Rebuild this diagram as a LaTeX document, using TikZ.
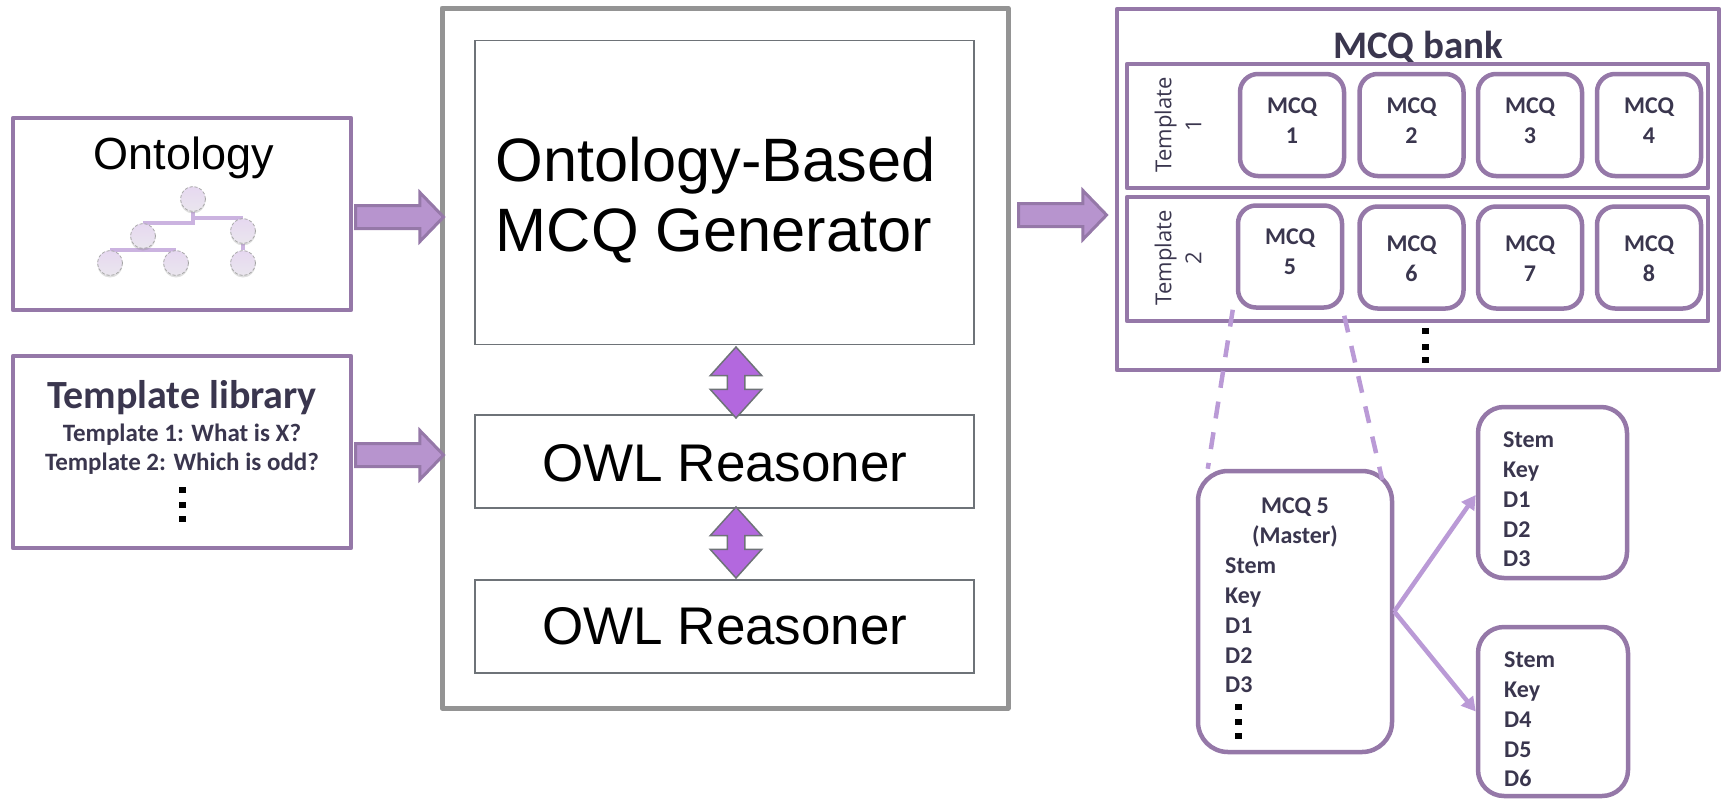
\documentclass[tikz,border=0pt]{standalone}
\usepackage{fontspec}
\setmainfont{Liberation Sans}
\newfontfamily\carlitofont{Carlito}[BoldFont={Carlito Bold}]
\newfontfamily\opensansfont{Open Sans}
\usetikzlibrary{shapes.arrows,backgrounds,shadows,arrows.meta}
\definecolor{boxpurple}{HTML}{9578A8}
\definecolor{arrowpurple}{HTML}{B794CE}
\definecolor{linkpurple}{HTML}{BA9AD6}
\definecolor{dblpurple}{HTML}{B368DE}
\definecolor{inkdark}{HTML}{3A364E}
\definecolor{framegray}{HTML}{949494}
\definecolor{innergray}{HTML}{6E7378}
\definecolor{treetop}{HTML}{E6D8F0}
\definecolor{treebottom}{HTML}{EAE6EE}
\newcommand{\sized}[2]{\fontsize{#1pt}{#2pt}\selectfont}
\begin{document}
\begin{tikzpicture}[x=1pt,y=-1pt,
purplebox/.style={draw=boxpurple, line width=4.5pt, line join=round, inner sep=0pt},
mcqbox/.style={purplebox, rounded corners=18pt},
innerbox/.style={draw=innergray, line width=1.5pt, inner sep=0pt, minimum width=499pt},
mcqtext/.style={font=\carlitofont\bfseries\sized{24}{30}, text=inkdark, align=center, inner sep=0pt},
listtext/.style={font=\carlitofont\bfseries\sized{24}{29.8}, text=inkdark, align=left, inner sep=0pt},
bigtext/.style={font=\sized{53}{60}, text=black, inner sep=0pt},
blockarrow/.style={single arrow, draw=boxpurple, fill=arrowpurple, line width=3pt, inner sep=10pt,
  minimum width=49pt, single arrow head extend=13pt, single arrow tip angle=92},
dblarrow/.style={double arrow, shape border rotate=90, draw=innergray, fill=dblpurple, line width=1.5pt, inner sep=8pt,
  minimum height=71pt, minimum width=50pt, double arrow head extend=17pt, double arrow tip angle=84},
dotsq/.style={fill=black, inner sep=0pt, minimum width=7pt, minimum height=6pt},
treenode/.style={circle, inner sep=0pt, minimum size=25pt, draw=black!35, densely dashed, line width=0.8pt,
  top color=treetop, bottom color=treebottom, drop shadow={shadow xshift=0pt, shadow yshift=-2pt, opacity=0.25}},
treeedge/.style={draw=linkpurple!75, line width=3.5pt},
dashlink/.style={draw=linkpurple, line width=4.5pt, dash pattern=on 17pt off 14pt},
sublink/.style={draw=linkpurple, line width=4.5pt, -{Triangle[length=14pt,width=15pt]}}]
\useasboundingbox (0,0) rectangle (1721,798);

\node[purplebox, minimum width=338pt, minimum height=192pt] (ontology) at (182,214) {};
\node[bigtext, font=\sized{45}{50}] (ontologytext) at (184,158) {Ontology};
\node[treenode] (root) at (193,199) {};
\node[treenode] (midleft) at (143,236) {};
\node[treenode] (midright) at (243,231) {};
\node[treenode] (leafone) at (110,263) {};
\node[treenode] (leaftwo) at (176,263) {};
\node[treenode] (leafthree) at (243,263) {};
\begin{scope}[on background layer]
\draw[treeedge] (root.south) |- (midleft.north);
\draw[treeedge] (root.south) |- (midright.north);
\draw[treeedge] (leafone.north) -- (leaftwo.north);
\draw[treeedge] (midright.south) -- (leafthree.north);
\end{scope}

\node[purplebox, minimum width=338pt, minimum height=192pt] (library) at (182,452) {};
\node[mcqtext, font=\carlitofont\bfseries\sized{40}{44}] (librarytitle) at (182,398) {Template library};
\node[mcqtext, font=\carlitofont\bfseries\sized{25}{29}] (librarylist) at (182,449.5) {Template 1: What is X?\\Template 2: Which is odd?};
\foreach \i/\y in {1/490,2/504.5,3/519}
  \node[dotsq] (librarydot\i) at (182,\y) {};

\node[draw=framegray, line width=5pt, line join=round, inner sep=0pt, minimum width=566pt, minimum height=700pt] (generator) at (725,358) {};
\node[innerbox, minimum height=304pt] (mcqgen) at (724.5,192.5) {};
\node[bigtext, font=\sized{61.3}{70}, align=left] (mcqgentext) at (715.5,200) {Ontology-Based\\MCQ Generator};
\node[innerbox, minimum height=93pt] (reasonerone) at (724.5,461.5) {};
\node[bigtext] (reasoneronetext) at (725,463) {OWL Reasoner};
\node[innerbox, minimum height=93pt] (reasonertwo) at (724.5,626.5) {};
\node[bigtext] (reasonertwotext) at (725,626) {OWL Reasoner};
\node[dblarrow] (dblone) at (736,382.5) {};
\node[dblarrow] (dbltwo) at (736,542.5) {};

\node[blockarrow, minimum height=88pt] (arrowontology) at (394,217) {};
\node[blockarrow, minimum height=88pt] (arrowlibrary) at (394,455) {};
\node[blockarrow, minimum height=88pt] (arrowbank) at (1057,215) {};

\node[purplebox, minimum width=602pt, minimum height=361pt] (bank) at (1418,189.5) {};
\node[mcqtext, font=\carlitofont\bfseries\sized{39}{42}] (banktitle) at (1418,47) {MCQ bank};
\node[purplebox, minimum width=581pt, minimum height=124pt] (rowone) at (1417.5,126) {};
\node[purplebox, minimum width=581pt, minimum height=124pt] (rowtwo) at (1417.5,259) {};
\node[font=\opensansfont\sized{22}{30}, text=inkdark, align=center, rotate=90, inner sep=0pt] (rowonetext) at (1178,125) {Template\\1};
\node[font=\opensansfont\sized{22}{30}, text=inkdark, align=center, rotate=90, inner sep=0pt] (rowtwotext) at (1178,258) {Template\\2};
\foreach \n/\x/\y/\ty in {1/1292/125/120.5,2/1411.5/125/120.5,3/1530/125/120.5,4/1649/125/120.5,
                          5/1290/256.5/252,6/1411.5/257.5/259,7/1530/257.5/259,8/1649/257.5/259}{
  \node[mcqbox, minimum width=104pt, minimum height=102pt] (mcq\n) at (\x,\y) {};
  \node[mcqtext] (mcqlabel\n) at (\x,\ty) {MCQ\\\n};
}
\foreach \i/\y in {1/331,2/346.5,3/360}
  \node[dotsq] (bankdot\i) at (1425,\y) {};

\node[mcqbox, rounded corners=30pt, minimum width=194pt, minimum height=281pt] (master) at (1295,611.5) {};
\node[mcqtext] (mastertitle) at (1295,522) {MCQ 5\\(Master)};
\node[listtext, anchor=west] (masterlist) at (1225,625.5) {Stem\\Key\\D1\\D2\\D3};
\foreach \i/\y in {1/707,2/722,3/736}
  \node[dotsq] (masterdot\i) at (1238,\y) {};

\node[mcqbox, rounded corners=26pt, minimum width=149pt, minimum height=171pt] (childone) at (1552.5,492.5) {};
\node[listtext, anchor=west] (childonelist) at (1503,499.5) {Stem\\Key\\D1\\D2\\D3};
\node[mcqbox, rounded corners=26pt, minimum width=150pt, minimum height=169pt] (childtwo) at (1553,711.5) {};
\node[listtext, anchor=west] (childtwolist) at (1504,719.5) {Stem\\Key\\D4\\D5\\D6};

\draw[dashlink] ([xshift=-3pt]mcq5.south west) -- ([xshift=12pt]master.north west);
\draw[dashlink] ([yshift=-6pt]mcq5.south east) -- ([xshift=-12pt,yshift=-11pt]master.north east);
\draw[sublink] (master.east) -- ([yshift=-2.5pt]childone.west);
\draw[sublink] (master.east) -- (childtwo.west);
\end{tikzpicture}
\end{document}
